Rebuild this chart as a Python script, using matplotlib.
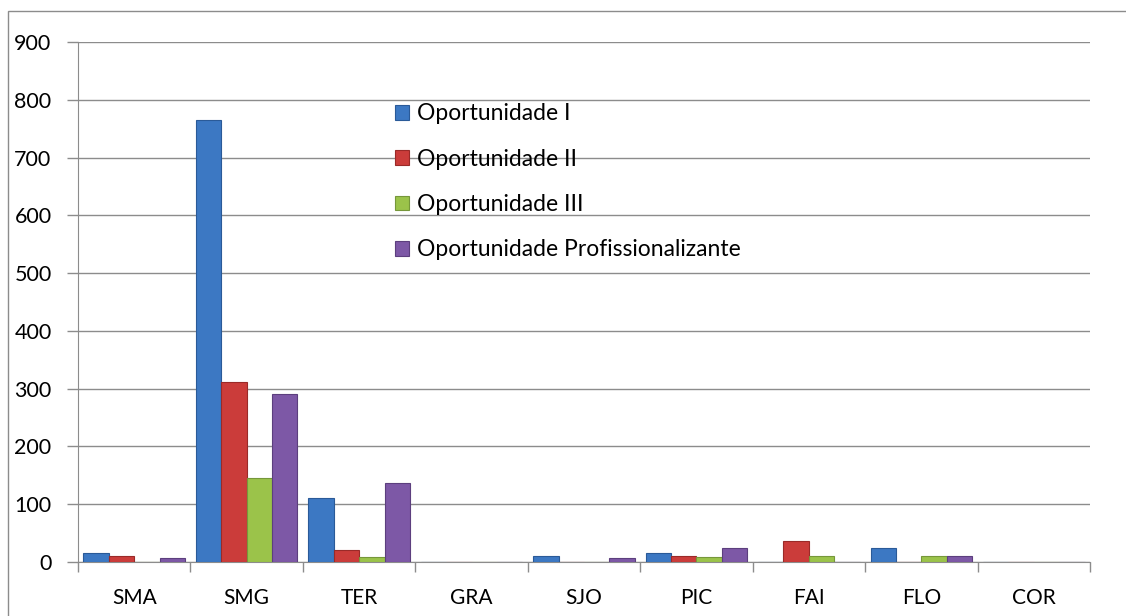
import matplotlib
matplotlib.use("Agg")
import matplotlib.pyplot as plt
import numpy as np
from matplotlib.patches import Rectangle

categories = ["SMA", "SMG", "TER", "GRA", "SJO", "PIC", "FAI", "FLO", "COR"]
series_names = ["Oportunidade I", "Oportunidade II", "Oportunidade III",
                "Oportunidade Profissionalizante"]
op1 = [15, 765, 110, 0, 11, 15, 0, 25, 0]
op2 = [11, 312, 20, 0, 0, 11, 37, 0, 0]
op3 = [0, 145, 8, 0, 0, 8, 11, 10, 0]
prof = [7, 290, 136, 0, 7, 25, 0, 11, 0]
yticks = [0, 100, 200, 300, 400, 500, 600, 700, 800, 900]

colors = ["#3C78C3", "#CB3C3A", "#9BC34A", "#7D58A6"]
edges = ["#2A5A98", "#9A2A28", "#76973A", "#5C3F7E"]

plt.rcParams['font.family'] = ['Lato', 'DejaVu Sans']

W, H = 1126, 616
fig = plt.figure(figsize=(W / 100, H / 100), dpi=100)
fig.patches.append(Rectangle((8 / W, -0.01), 1.2, 1 - 11 / H + 0.01,
                             transform=fig.transFigure, fill=False,
                             edgecolor="#8C8C8C", linewidth=1.0))

ax = fig.add_axes([78 / W, 1 - 562 / H, (1090 - 78) / W, (562 - 42) / H])

x = np.arange(len(categories))
bw = 0.226
for i, (vals, name) in enumerate(zip([op1, op2, op3, prof], series_names)):
    ax.bar(x + (i - 1.5) * bw, vals, width=bw, color=colors[i],
           edgecolor=edges[i], linewidth=0.8, label=name, zorder=3)

ax.set_xlim(-0.5, len(categories) - 0.5)
ax.set_ylim(0, 900)
ax.set_yticks(yticks)
ax.set_yticklabels([str(v) for v in yticks])
ax.yaxis.grid(True, color="#8C8C8C", linewidth=1.0, zorder=0)
ax.set_axisbelow(True)

ax.set_xticks(x)
ax.set_xticklabels(categories)
ax.set_xticks(np.arange(-0.5, len(categories), 1.0), minor=True)
ax.tick_params(axis='x', which='major', length=0, pad=19, labelsize=15)
ax.tick_params(axis='x', which='minor', length=7, color="#8C8C8C", width=1)
ax.tick_params(axis='y', length=8, color="#8C8C8C", width=1, labelsize=15.5, pad=11)

for s in ["top", "right"]:
    ax.spines[s].set_visible(False)
ax.spines["left"].set_color("#8C8C8C")
ax.spines["bottom"].set_color("#8C8C8C")

leg = ax.legend(loc="upper left", bbox_to_anchor=(395 / W, 1 - 103.5 / H),
                bbox_transform=fig.transFigure, frameon=False, fontsize=16.5,
                handlelength=0.62, handleheight=0.62, handletextpad=0.35,
                labelspacing=1.06, borderpad=0, borderaxespad=0)

fig.savefig("out.png", dpi=100)
